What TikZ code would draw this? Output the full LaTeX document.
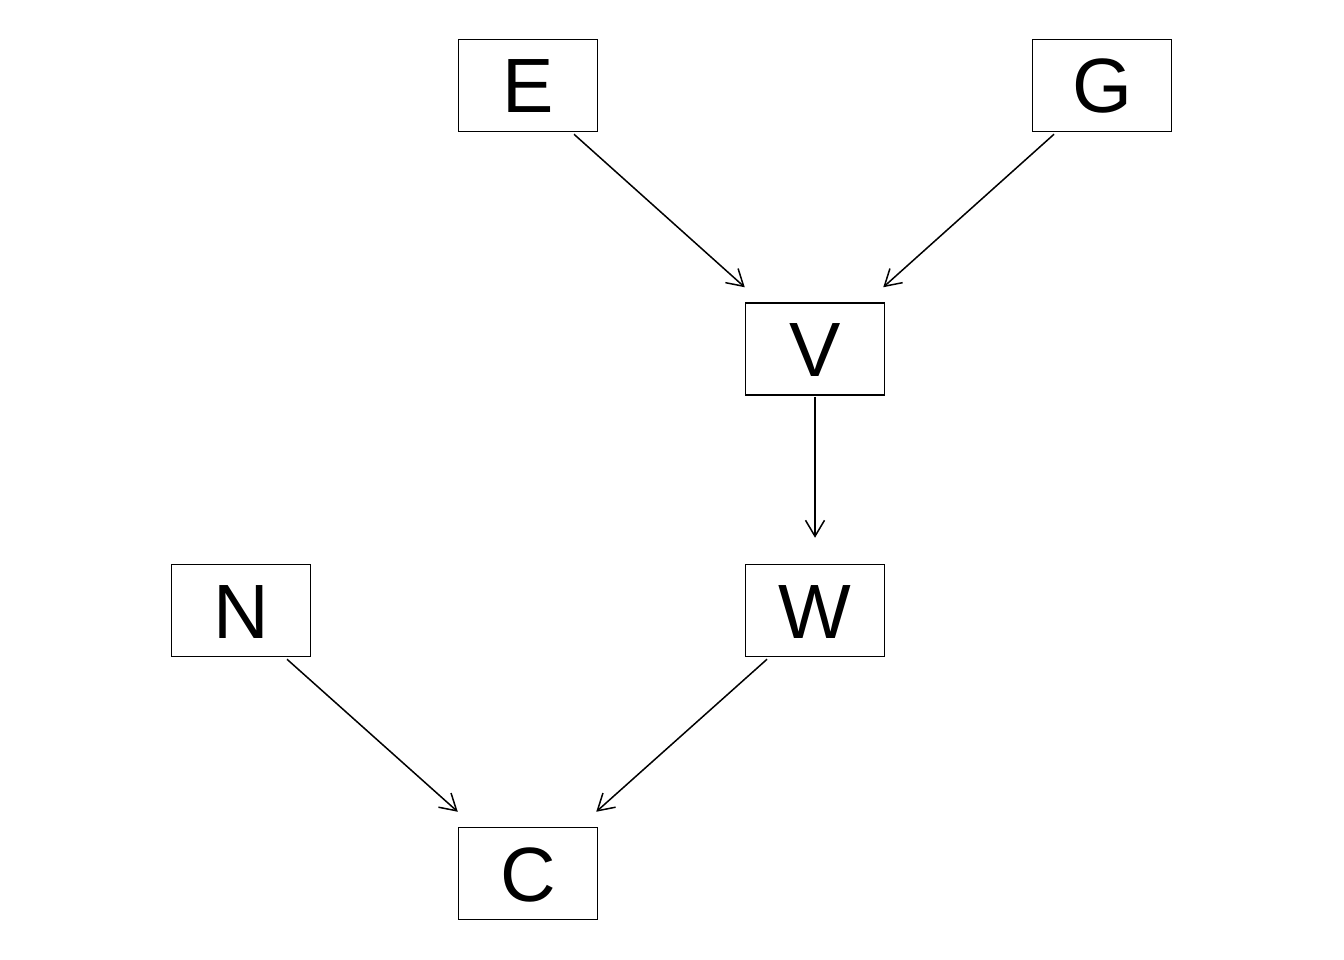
\documentclass[tikz,border=0pt]{standalone}
\usepackage{fontspec}
\setmainfont{Liberation Sans}
\usetikzlibrary{arrows.meta}
\begin{document}
\begin{tikzpicture}[x=1pt,y=-1pt,
  var/.style={draw=black, line width=1.5pt, fill=white, inner sep=0pt,
    minimum width=139pt, minimum height=92pt,
    font=\fontsize{77}{77}\selectfont, text height=55pt, text depth=0pt},
  edge/.style={line width=1.5pt, -{Straight Barb[length=16pt,width=19pt,line width=1.5pt]}}]
  \useasboundingbox (0,0) rectangle (1344,960);
  % variables
  \node[var] (E) at (528,85.5) {E};
  \node[var] (G) at (1102,85.5) {G};
  \node[var] (V) at (815,349) {V};
  \node[var] (W) at (815,610.5) {W};
  \node[var] (N) at (241,610.5) {N};
  \node[var] (C) at (528,873.5) {C};
  % directed edges
  \draw[edge] ([xshift=46pt,yshift=-2pt]E.south) -- ([yshift=15pt]V.north west);
  \draw[edge] ([xshift=-48pt,yshift=-2pt]G.south) -- ([xshift=-2pt,yshift=15pt]V.north east);
  \draw[edge] ([yshift=-1pt]V.south) -- ([yshift=26pt]W.north);
  \draw[edge] ([xshift=46pt,yshift=-2pt]N.south) -- ([yshift=15pt]C.north west);
  \draw[edge] ([xshift=-48pt,yshift=-2pt]W.south) -- ([xshift=-2pt,yshift=15pt]C.north east);
\end{tikzpicture}
\end{document}
